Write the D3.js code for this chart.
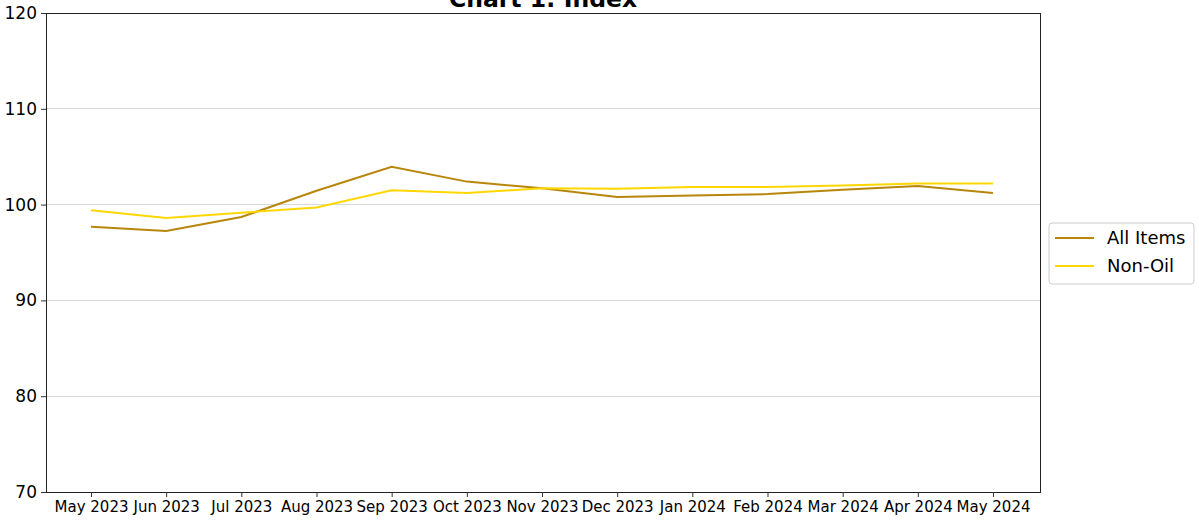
<!DOCTYPE html>
<html>
<head>
<meta charset="utf-8">
<script src="https://cdn.jsdelivr.net/npm/d3@7"></script>
<style>
  body { margin: 0; background: #fff; }
  svg, svg text { font-family: 'DejaVu Sans', sans-serif; }
</style>
</head>
<body>
<svg id="chart" width="1199" height="520"></svg>
<script>
const months = ['May 2023', 'Jun 2023', 'Jul 2023', 'Aug 2023', 'Sep 2023', 'Oct 2023', 'Nov 2023',
                'Dec 2023', 'Jan 2024', 'Feb 2024', 'Mar 2024', 'Apr 2024', 'May 2024'];
const allItems = [97.7, 97.25, 98.7, 101.45, 103.95, 102.4, 101.7, 100.8, 100.95, 101.1, 101.55, 101.95, 101.2];
const nonOil = [99.4, 98.6, 99.15, 99.7, 101.5, 101.2, 101.7, 101.65, 101.85, 101.85, 102.0, 102.2, 102.2];
const yTicks = [70, 80, 90, 100, 110, 120];

const seriesList = [
    {name: 'All Items', values: allItems, color: '#b8860b'},
    {name: 'Non-Oil', values: nonOil, color: '#ffd700'}
];

const margin = {left: 46, right: 1040, top: 13, bottom: 492};
const svg = d3.select('#chart');

let x = d3.scalePoint().domain(months).range([91, 993]);
let y = d3.scaleLinear().domain([70, 120]).range([margin.bottom, margin.top]);

// grid
svg.append('g')
    .selectAll('line')
    .data(yTicks)
    .enter()
    .append('line')
    .attr('x1', margin.left)
    .attr('x2', margin.right)
    .attr('y1', d => y(d))
    .attr('y2', d => y(d))
    .style('stroke', '#d9d9d9')
    .style('stroke-width', 1)
    .style('shape-rendering', 'crispEdges');

// lines
let line = d3.line().x((d, i) => x(months[i])).y(d => y(d));
svg.append('g')
    .selectAll('path')
    .data(seriesList)
    .enter()
    .append('path')
    .attr('d', d => line(d.values))
    .attr('fill', 'none')
    .attr('stroke', d => d.color)
    .attr('stroke-width', 2);

// frame
svg.append('rect')
    .attr('x', margin.left)
    .attr('y', margin.top)
    .attr('width', margin.right - margin.left)
    .attr('height', margin.bottom - margin.top)
    .attr('fill', 'none')
    .attr('stroke', '#222')
    .attr('stroke-width', 1)
    .style('shape-rendering', 'crispEdges');

// axes
let xAxis = svg.append('g')
    .attr('transform', `translate(0,${margin.bottom})`)
    .call(d3.axisBottom(x).tickSize(5).tickPadding(4));
xAxis.attr('font-family', null).attr('font-size', null);
xAxis.select('.domain').remove();
xAxis.selectAll('text').style('font-size', '15px').style('fill', '#000');
xAxis.selectAll('line').style('stroke', '#333');

let yAxis = svg.append('g')
    .attr('transform', `translate(${margin.left},0)`)
    .call(d3.axisLeft(y).tickValues(yTicks).tickSize(5).tickPadding(4));
yAxis.attr('font-family', null).attr('font-size', null);
yAxis.select('.domain').remove();
yAxis.selectAll('text').style('font-size', '17px').style('fill', '#000');
yAxis.selectAll('line').style('stroke', '#333');

// title
svg.append('text')
    .attr('x', (margin.left + margin.right) / 2)
    .attr('y', 7)
    .attr('text-anchor', 'middle')
    .style('font-size', '23.5px')
    .style('font-weight', 'bold')
    .text('Chart 1: Index');

// legend
let legend = svg.append('g').attr('transform', 'translate(1049,223)');
legend.append('rect')
    .attr('width', 145)
    .attr('height', 61)
    .attr('rx', 3)
    .attr('fill', '#fff')
    .attr('stroke', '#ccc');
let items = legend.selectAll('g.item')
    .data(seriesList)
    .enter()
    .append('g')
    .attr('class', 'item')
    .attr('transform', (d, i) => `translate(0,${15 + i * 28})`);
items.append('line')
    .attr('x1', 6).attr('x2', 45)
    .attr('stroke', d => d.color)
    .attr('stroke-width', 2);
items.append('text')
    .attr('x', 58)
    .attr('dy', '0.35em')
    .style('font-size', '18px')
    .text(d => d.name);
</script>
</body>
</html>
